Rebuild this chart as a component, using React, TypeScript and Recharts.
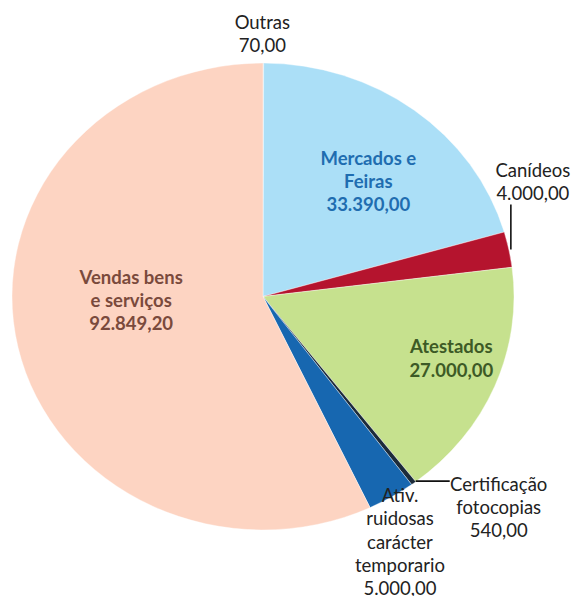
import React from 'react';
import { PieChart, Pie, Cell } from 'recharts';

const categories = [
  'Outras',
  'Mercados e Feiras',
  'Canídeos',
  'Atestados',
  'Certificação fotocopias',
  'Ativ. ruidosas carácter temporario',
  'Vendas bens e serviços',
];
const values = [70, 33390, 4000, 27000, 540, 5000, 92849.2];
const labelLines = [
  ['Outras'],
  ['Mercados e', 'Feiras'],
  ['Canídeos'],
  ['Atestados'],
  ['Certificação', 'fotocopias'],
  ['Ativ.', 'ruidosas', 'carácter', 'temporario'],
  ['Vendas bens', 'e serviços'],
];
const sliceColors = ['#c9c9c9', '#abdff7', '#b5142e', '#c6e18e', '#1c2b3a', '#1767b0', '#fdd4c2'];
const textColors = ['#222', '#1f6db0', '#222', '#3d5a26', '#222', '#222', '#7a4a3c'];
const textWeights = [400, 700, 400, 700, 400, 400, 700];

// label layout (style, not data)
const labelLayout = [
  { r: 1, dx: -1, dy: -29.5 },
  { r: 0.65, dx: 7, dy: 5.6 },
  { r: 1, dx: 24, dy: -68, line: [2, 0, 2, -45] },
  { r: 0.8, dx: 3, dy: -10.5 },
  { r: 1, dx: 85, dy: 24, line: [2, -2, 36, -2] },
  { r: 1, dx: 8.5, dy: 44.5 },
  { r: 0.53, dx: -2, dy: -23.5 },
];

const SY = 0.93;
const W = 572;
const H = Math.round(596 / SY);
const CX = 263;
const CY = 296.5 / SY;
const R = 251;
const LH = 23.3;
const FS = 18.5;

function fmt(v: number): string {
  const fixed = v.toFixed(2);
  const [intPart, dec] = fixed.split('.');
  const withSep = intPart.replace(/\B(?=(\d{3})+(?!\d))/g, '.');
  return withSep + ',' + dec;
}

const data = categories.map((name, i) => ({ name, value: values[i] }));

const renderLabel = (props: any) => {
  const { cx, cy, midAngle, outerRadius, index } = props;
  const cfg = labelLayout[index];
  const rad = (midAngle * Math.PI) / 180;
  const ex = cx + Math.cos(rad) * outerRadius * cfg.r;
  const eyFinal = (cy - Math.sin(rad) * outerRadius * cfg.r) * SY;
  const lx = ex + cfg.dx;
  const lyFinal = eyFinal + cfg.dy;
  const lines = [...labelLines[index], fmt(values[index])];
  const n = lines.length;
  return (
    <g key={'lbl' + index}>
      {cfg.line && (
        <g transform={`translate(${ex},${eyFinal / SY}) scale(1,${1 / SY})`}>
          <line
            x1={cfg.line[0]}
            y1={cfg.line[1]}
            x2={cfg.line[2]}
            y2={cfg.line[3]}
            stroke="#111"
            strokeWidth={1.6}
          />
        </g>
      )}
      <g transform={`translate(${lx},${lyFinal / SY}) scale(1,${1 / SY})`}>
        <text
          x={0}
          y={0}
          textAnchor="middle"
          fill={textColors[index]}
          fontWeight={textWeights[index]}
          fontSize={FS}
          fontFamily="Lato, 'Open Sans', sans-serif"
        >
          {lines.map((t, i) => (
            <tspan key={i} x={0} y={(i - (n - 1) / 2) * LH} dominantBaseline="central">
              {t}
            </tspan>
          ))}
        </text>
      </g>
    </g>
  );
};

export default function App() {
  return (
    <div
      style={{
        position: 'absolute',
        left: 0,
        top: 0,
        width: W,
        height: H,
        transform: `scaleY(${SY})`,
        transformOrigin: '0 0',
        background: '#fff',
      }}
    >
      <PieChart width={W} height={H} margin={{ top: 0, right: 0, bottom: 0, left: 0 }}>
        <Pie
          data={data}
          dataKey="value"
          nameKey="name"
          cx={CX}
          cy={CY}
          outerRadius={R}
          startAngle={90}
          endAngle={-270}
          stroke="#ffffff"
          strokeWidth={0.4}
          label={renderLabel}
          labelLine={false}
          isAnimationActive={false}
        >
          {data.map((d, i) => (
            <Cell key={d.name} fill={sliceColors[i]} />
          ))}
        </Pie>
      </PieChart>
    </div>
  );
}
